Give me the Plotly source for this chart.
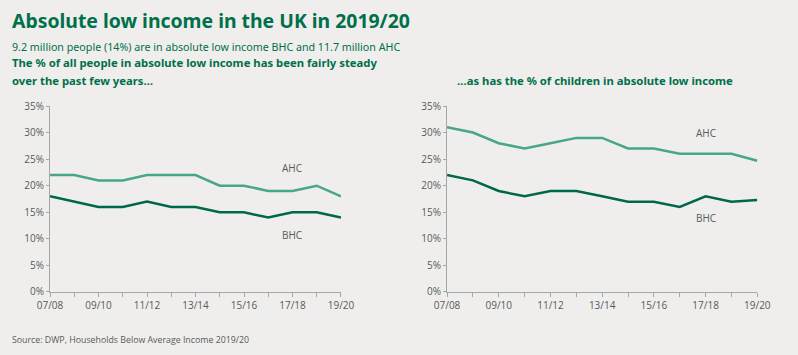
import plotly.graph_objects as go

years = ["07/08", "08/09", "09/10", "10/11", "11/12", "12/13", "13/14",
         "14/15", "15/16", "16/17", "17/18", "18/19", "19/20"]
all_ahc = [22, 22, 21, 21, 22, 22, 22, 20, 20, 19, 19, 20, 18]
all_bhc = [18, 17, 16, 16, 17, 16, 16, 15, 15, 14, 15, 15, 14]
child_ahc = [31, 30, 28, 27, 28, 29, 29, 27, 27, 26, 26, 26, 24.7]
child_bhc = [22, 21, 19, 18, 19, 19, 18, 17, 17, 16, 18, 17, 17.3]

AHC_COL = "#48a68b"
BHC_COL = "#00684a"
GREEN = "#00704a"
BG = "#efeeec"
AX = "#a6a6a6"
TXT = "#595959"

fig = go.Figure()
fig.add_trace(go.Scatter(x=years, y=all_ahc, mode="lines", line=dict(color=AHC_COL, width=2.5),
                         xaxis="x", yaxis="y", showlegend=False, hoverinfo="skip"))
fig.add_trace(go.Scatter(x=years, y=all_bhc, mode="lines", line=dict(color=BHC_COL, width=2.5),
                         xaxis="x", yaxis="y", showlegend=False, hoverinfo="skip"))
fig.add_trace(go.Scatter(x=years, y=child_ahc, mode="lines", line=dict(color=AHC_COL, width=2.5),
                         xaxis="x2", yaxis="y2", showlegend=False, hoverinfo="skip"))
fig.add_trace(go.Scatter(x=years, y=child_bhc, mode="lines", line=dict(color=BHC_COL, width=2.5),
                         xaxis="x2", yaxis="y2", showlegend=False, hoverinfo="skip"))

ticktext = [y if i % 2 == 0 else "" for i, y in enumerate(years)]

def xax(domain, anchor):
    return dict(domain=domain, anchor=anchor, type="category", range=[0, len(years) - 1],
                tickmode="array", tickvals=years, ticktext=ticktext, automargin=False,
                showline=True, linecolor=AX, linewidth=1, ticks="outside", ticklen=4,
                tickcolor=AX, showgrid=False, zeroline=False,
                tickfont=dict(family="Open Sans", size=10, color=TXT), tickangle=0)

def yax(anchor):
    return dict(domain=[0.1775, 0.7014], anchor=anchor, range=[0, 35], dtick=5,
                ticksuffix="%", showline=True, linecolor=AX, linewidth=1, automargin=False,
                ticks="outside", ticklen=3, tickcolor=AX, showgrid=False, zeroline=False,
                tickfont=dict(family="Open Sans", size=10, color=TXT))

fig.update_layout(
    template="none",
    width=798, height=355,
    margin=dict(l=0, r=0, t=0, b=0, pad=0, autoexpand=False),
    paper_bgcolor=BG, plot_bgcolor=BG,
    xaxis=xax([0.0627, 0.4273], "y"),
    yaxis=yax("x"),
    xaxis2=xax([0.5602, 0.949], "y2"),
    yaxis2=yax("x2"),
)

def px_ann(text, x, y, size, color, bold=False, family="Noto Sans", xanchor="left"):
    if bold:
        text = "<b>" + text + "</b>"
    fig.add_annotation(text=text, x=x / 798, y=1 - y / 355, xref="paper", yref="paper",
                       xanchor=xanchor, yanchor="middle", showarrow=False,
                       font=dict(family=family, size=size, color=color))

px_ann("Absolute low income in the UK in 2019/20", 10, 20, 19.4, GREEN, bold=True)
px_ann("9.2 million people (14%) are in absolute low income BHC and 11.7 million AHC", 10, 47, 10.7, GREEN)
px_ann("The % of all people in absolute low income has been fairly steady", 10, 63, 11.3, GREEN, bold=True)
px_ann("over the past few years…", 10, 80, 11.3, GREEN, bold=True)
px_ann("…as has the % of children in absolute low income", 455, 80, 11.3, GREEN, bold=True)
px_ann("Source: DWP, Households Below Average Income 2019/20", 10, 340, 8.8, TXT, family="Open Sans")

fig.add_annotation(text="AHC", x="17/18", y=23.4, xref="x", yref="y", showarrow=False,
                   font=dict(family="Open Sans", size=10, color=TXT))
fig.add_annotation(text="BHC", x="17/18", y=10.7, xref="x", yref="y", showarrow=False,
                   font=dict(family="Open Sans", size=10, color=TXT))
fig.add_annotation(text="AHC", x="17/18", y=30.0, xref="x2", yref="y2", showarrow=False,
                   font=dict(family="Open Sans", size=10, color=TXT))
fig.add_annotation(text="BHC", x="17/18", y=13.9, xref="x2", yref="y2", showarrow=False,
                   font=dict(family="Open Sans", size=10, color=TXT))

fig.write_html(
    "out.html",
    config={"displayModeBar": False},
    post_script="document.body.style.margin='0';document.body.style.background='#efeeec';",
)
